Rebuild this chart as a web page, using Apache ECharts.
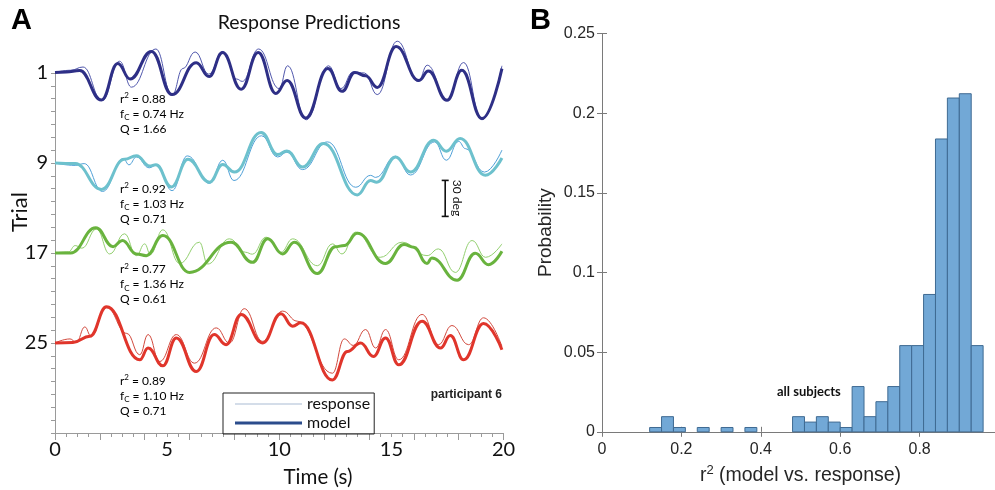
<!DOCTYPE html>
<html><head><meta charset="utf-8">
<script src="https://cdn.jsdelivr.net/npm/echarts@6/dist/echarts.min.js"></script>
<style>html,body{margin:0;padding:0;background:#fff}#c{width:995px;height:490px}</style>
</head><body><div id="c"></div>
<script>
// ---------- Panel A data: [time (s), deflection (deg)] ----------
const trial1Model = [[0,0.5],[0.5,0.8],[1.1,2],[2.07,-22.5],[2.8,7.9],[3.35,-5],[4.3,18],[5.22,-18],[6.3,8.6],[6.87,-3],[7.47,17],[8.3,-13.5],[9.06,17],[9.85,-17],[10.35,-6.2],[11.18,-37.5],[12.17,3.7],[12.8,-15.3],[13.37,0.5],[13.85,-2.3],[14.37,-12],[15.21,22],[16.23,-6.2],[16.65,1.6],[17.48,-22.8],[18.14,2.2],[19.04,-38],[19.93,3.7]];
const trial1Resp = [[0,0.5],[0.7,2.3],[1.25,5],[2.1,-23],[2.88,9.8],[3.41,-11.8],[4.5,20],[5.22,-18.5],[5.7,3.7],[6.25,17.5],[6.86,-1],[7.48,18],[8.1,-5],[8.35,-7],[9.08,20],[10.0,-13],[10.37,6],[11.2,-39],[12.2,6],[12.75,-13],[13.3,1],[13.8,0],[14.37,-18],[15.26,26.5],[16.2,-7],[16.6,6.5],[17.48,-23],[18.22,8.7],[19.04,-39],[19.93,6]];
const trial9Model = [[0,0],[0.9,-0.5],[2.07,-22],[3.1,3.1],[3.63,6],[4.22,-2.5],[4.5,-1.5],[5.19,-20],[5.93,3.1],[6.89,-16],[7.48,-1.3],[8.0,-7.6],[9.19,25.5],[9.93,7],[10.34,10],[11.04,-3.4],[11.97,16.3],[13.48,-26.6],[14.07,-14.5],[14.35,-16],[15.19,5],[15.85,-7.6],[16.89,19],[17.45,9.8],[18.07,20.5],[19.19,-10.3],[19.93,4.2]];
const trial9Resp = [[0,0],[0.9,-2],[1.3,-0.5],[2.12,-23.7],[3.05,3.6],[3.3,-1.5],[3.63,5],[4.2,-4],[4.55,-1.5],[5.22,-23],[5.9,5.9],[6.9,-17],[7.48,2.3],[7.98,-14.6],[9.21,22.7],[9.93,5],[10.34,9],[11.04,-5.5],[12.15,17.6],[13.41,-20.2],[14.07,-10.3],[14.3,-12],[15.19,5.6],[15.85,-10],[16.93,17.6],[17.45,2.3],[18.0,18],[18.3,12],[19.15,-7.6],[19.93,10.7]];
const trial17Model = [[0,0],[0.7,0],[1.82,21],[2.59,5.3],[3.0,10.4],[3.63,-0.8],[4.07,-2.2],[4.81,14.6],[6.0,-16.2],[7.85,9],[8.81,-7.8],[9.48,11.8],[10.15,-0.8],[10.67,9],[11.7,-17.1],[12.5,5.3],[12.9,6.2],[13.48,16.5],[14.74,-8.7],[15.56,7],[16.0,4.8],[16.59,-8.7],[16.8,-4.2],[17.93,-22.7],[18.74,-0.3],[19.33,-9.8],[19.93,1.4]];
const trial17Resp = [[0,0],[0.6,1],[0.9,6.2],[1.2,4],[1.85,20],[2.44,-0.8],[3.1,16],[3.63,-2.2],[4.0,7.6],[4.25,-1],[4.81,19.3],[5.56,-8.7],[6.44,9],[6.81,-9.2],[7.78,11.8],[8.5,0.6],[8.8,-1],[9.41,13.2],[10.07,0.6],[10.6,11.8],[11.7,-10.6],[12.37,7.6],[12.8,-0.8],[13.4,17.4],[14.5,-3.6],[15.48,9],[16.59,-2.2],[17.1,3.4],[17.85,-16.2],[18.6,10.4],[19.2,-3.6],[19.93,7.6]];
const trial25Model = [[0,0],[0.8,0.5],[1.56,5.6],[2.3,30.3],[3.78,-14],[4.15,-4.2],[4.81,-19],[5.41,4.2],[6.3,-23.8],[7.1,7],[7.63,-1.4],[8.3,23.8],[9.26,0],[10.07,24.4],[10.6,14],[10.96,16.8],[12.37,-30.8],[13.04,-7],[13.63,0],[14.2,-11.2],[14.74,4.2],[15.33,-18.2],[16.37,18.2],[17.19,-4.2],[17.63,6.2],[18.22,-14],[19.11,16.2],[19.93,-5.6]];
const trial25Resp = [[0,0],[0.67,3.4],[0.95,0.5],[1.33,13.4],[1.6,6],[2.3,29.4],[3.2,8],[3.78,-9.8],[4.15,7],[4.67,-15.4],[5.41,7],[6.22,-16.8],[7.19,12.6],[7.78,0],[8.44,28.6],[9.26,1.4],[10.15,26.6],[10.8,18.2],[12.37,-25.2],[12.9,3.4],[13.3,-2],[13.85,11.2],[14.3,-4.2],[14.74,11.2],[15.33,-14],[16.37,23.8],[17.1,-1.4],[17.7,14.6],[18.44,-1.4],[19.11,21],[19.93,-2.8]];

const trialLabels = ['1', '9', '17', '25'];
const r2Values = ['0.88', '0.92', '0.77', '0.89'];
const fcValues = ['0.74', '1.03', '1.36', '1.10'];
const qValues = ['1.66', '0.71', '0.61', '0.71'];
const timeTickLabels = [0, 5, 10, 15, 20];
const scaleBarDeg = 30;

// ---------- Panel B data: histogram of r^2 ----------
const binLeft = [0.12,0.15,0.18,0.24,0.30,0.36,0.48,0.51,0.54,0.57,0.60,0.63,0.66,0.69,0.72,0.75,0.78,0.81,0.84,0.87,0.90,0.93];
const binProb = [0.0027,0.0095,0.0027,0.0027,0.0027,0.0027,0.0095,0.0061,0.0095,0.0061,0.0027,0.0284,0.0095,0.0189,0.0284,0.0541,0.0541,0.0862,0.1838,0.2095,0.2122,0.0541];
const BIN_WIDTH = 0.03;
const rTickLabels = [0, 0.2, 0.4, 0.6, 0.8];

// ---------- build ----------
const TRIAL_STEP = 75;          // deg between stacked trials
const TICK_STEP = TRIAL_STEP / 7;
const Y_MAX = TRIAL_STEP * 4;
const modelSets = [trial1Model, trial9Model, trial17Model, trial25Model];
const respSets = [trial1Resp, trial9Resp, trial17Resp, trial25Resp];
const modelColors = ['#2e2f86', '#6dc1cd', '#69b33e', '#e0352b'];
const respColors = ['#5158ad', '#4fa0d8', '#93d070', '#d24a3e'];
const FONT_A = 'Lato, "Open Sans", sans-serif';
const FONT_B = '"Liberation Sans", Arial, sans-serif';

const series = [];
for (let k = 0; k < 4; k++) {
  const base = Y_MAX - TRIAL_STEP * k;
  series.push({
    type: 'line', xAxisIndex: 0, yAxisIndex: 0, symbol: 'none', smooth: 0.45, smoothMonotone: 'x', clip: false,
    silent: true, z: 2,
    data: respSets[k].map(p => [p[0], base + p[1]]),
    lineStyle: { color: respColors[k], width: 1 }
  });
  series.push({
    type: 'line', xAxisIndex: 0, yAxisIndex: 0, symbol: 'none', smooth: 0.45, smoothMonotone: 'x', clip: false,
    silent: true, z: 3,
    data: modelSets[k].map(p => [p[0], base + p[1]]),
    lineStyle: { color: modelColors[k], width: 3 }
  });
}
// legend-only series
series.push({ name: 'response', type: 'line', xAxisIndex: 0, yAxisIndex: 0, data: [], symbol: 'none',
  itemStyle: { color: '#aabbd4' }, lineStyle: { color: '#aabbd4', width: 1 } });
series.push({ name: 'model', type: 'line', xAxisIndex: 0, yAxisIndex: 0, data: [], symbol: 'none',
  itemStyle: { color: '#2b4c8c' }, lineStyle: { color: '#2b4c8c', width: 3 } });

// scale bar (30 deg) in data coordinates
const scaleBarX = 17.4;
const scaleBarBottom = Y_MAX - TRIAL_STEP - 44.5;
series.push({
  type: 'custom', xAxisIndex: 0, yAxisIndex: 0, clip: false, silent: true,
  data: [[scaleBarX, scaleBarBottom, scaleBarBottom + scaleBarDeg]],
  encode: { x: 0, y: [1, 2] },
  renderItem: function (params, api) {
    const a = api.coord([api.value(0), api.value(1)]);
    const b = api.coord([api.value(0), api.value(2)]);
    const st = { stroke: '#111', lineWidth: 1.6 };
    return { type: 'group', children: [
      { type: 'line', shape: { x1: a[0], y1: a[1], x2: b[0], y2: b[1] }, style: st },
      { type: 'line', shape: { x1: a[0] - 3.5, y1: a[1], x2: a[0] + 3.5, y2: a[1] }, style: st },
      { type: 'line', shape: { x1: b[0] - 3.5, y1: b[1], x2: b[0] + 3.5, y2: b[1] }, style: st }
    ]};
  }
});

// histogram
series.push({
  type: 'custom', xAxisIndex: 2, yAxisIndex: 1, silent: true,
  data: binLeft.map((x, i) => [x, binProb[i]]),
  encode: { x: 0, y: 1 },
  renderItem: function (params, api) {
    const x0 = api.value(0), v = api.value(1);
    const p0 = api.coord([x0, v]);
    const p1 = api.coord([x0 + BIN_WIDTH, 0]);
    return { type: 'rect', shape: { x: p0[0], y: p0[1], width: p1[0] - p0[0], height: p1[1] - p0[1] },
      style: { fill: '#72a8d6', stroke: '#3f6a92', lineWidth: 1 } };
  }
});

// text annotations
const graphic = [
  { type: 'text', x: 11, y: 6, style: { text: 'A', font: 'bold 29px ' + FONT_B, fill: '#000' } },
  { type: 'text', x: 530, y: 6, style: { text: 'B', font: 'bold 29px ' + FONT_B, fill: '#000' } },
  { type: 'text', x: 20, y: 212, rotation: Math.PI / 2,
    style: { text: 'Trial', font: '22px ' + FONT_A, fill: '#111', align: 'center', verticalAlign: 'middle', textAlign: 'center', textVerticalAlign: 'middle' } },
  { type: 'text', x: 318, y: 477,
    style: { text: 'Time (s)', font: '20.5px ' + FONT_A, fill: '#111', align: 'center', verticalAlign: 'middle', textAlign: 'center', textVerticalAlign: 'middle' } },
  { type: 'text', x: 457, y: 198, rotation: -Math.PI / 2,
    style: { text: scaleBarDeg + ' deg', font: '12px ' + FONT_A, fill: '#111', align: 'center', verticalAlign: 'middle', textAlign: 'center', textVerticalAlign: 'middle' } },
  { type: 'text', x: 502, y: 395,
    style: { text: 'participant 6', font: 'bold 12px ' + FONT_B, fill: '#222', align: 'right', verticalAlign: 'middle', textAlign: 'right', textVerticalAlign: 'middle' } },
  { type: 'text', x: 777, y: 392,
    style: { text: 'all subjects', font: 'bold 13px ' + FONT_A, fill: '#111', align: 'left', verticalAlign: 'middle', textAlign: 'left', textVerticalAlign: 'middle' } }
];
const statTop = [99, 189, 269.5, 380.7];
const richStats = {
  n: { fontSize: 12, fontFamily: FONT_A, color: '#222', lineHeight: 15 },
  sup: { fontSize: 8, fontFamily: FONT_A, color: '#222', lineHeight: 15, verticalAlign: 'top' },
  sub: { fontSize: 8, fontFamily: FONT_A, color: '#222', lineHeight: 15, verticalAlign: 'bottom', padding: [4, 0, 0, 0] }
};
for (let k = 0; k < 4; k++) {
  const lines = [
    '{n|r}{sup|2}{n| = ' + r2Values[k] + '}',
    '{n|f}{sub|C}{n| = ' + fcValues[k] + ' Hz}',
    '{n|Q = ' + qValues[k] + '}'
  ];
  lines.forEach((t, j) => {
    graphic.push({ type: 'text', x: 120, y: statTop[k] + j * 15, style: { text: t, rich: richStats, verticalAlign: 'middle', textVerticalAlign: 'middle' } });
  });
}

const option = {
  animation: false,
  backgroundColor: '#fff',
  title: { text: 'Response Predictions', left: 304, top: 8, textAlign: 'center',
    textStyle: { fontSize: 19.5, fontWeight: 'normal', fontFamily: FONT_A, color: '#111' } },
  legend: {
    data: [ { name: 'response', icon: 'path://M0,0H67V1H0Z' }, { name: 'model', icon: 'path://M0,0H67V3.2H0Z' } ],
    orient: 'vertical', left: 223, top: 393, itemWidth: 67, itemHeight: 14, itemGap: 3,
    padding: [3, 4, 3, 12], borderColor: '#222', borderWidth: 1, selectedMode: false,
    textStyle: { fontSize: 16, fontFamily: FONT_A, color: '#111' }
  },
  grid: [
    { left: 55, top: 73, width: 448.5, height: 360, containLabel: false, outerBoundsMode: 'none' },
    { left: 602, top: 33.5, width: 397, height: 398.3, containLabel: false, outerBoundsMode: 'none' }
  ],
  xAxis: [
    { gridIndex: 0, type: 'value', min: 0, max: 20, interval: 0.5, position: 'bottom',
      axisLine: { lineStyle: { color: '#9a9a9a', width: 1 } },
      axisTick: { length: 4, lineStyle: { color: '#9a9a9a' } },
      axisLabel: { margin: 7, fontSize: 20, fontFamily: FONT_A, color: '#111',
        formatter: v => { const r = Math.round(v); return (Math.abs(v - r) < 1e-6 && timeTickLabels.indexOf(r) >= 0) ? String(r) : ''; } },
      splitLine: { show: false } },
    { gridIndex: 0, type: 'value', min: 0, max: 20, interval: 2, position: 'bottom',
      axisLine: { show: false }, axisTick: { length: 7, lineStyle: { color: '#9a9a9a' } },
      axisLabel: { show: false }, splitLine: { show: false } },
    { gridIndex: 1, type: 'value', min: 0, max: 1, interval: 0.2, position: 'bottom',
      axisLine: { lineStyle: { color: '#7a7a7a' } },
      axisTick: { inside: true, length: 5, lineStyle: { color: '#7a7a7a' } },
      axisLabel: { margin: 10, fontSize: 16, fontFamily: FONT_B, color: '#262626',
        formatter: v => { const m = rTickLabels.find(t => Math.abs(t - v) < 1e-6); return m === undefined ? '' : String(m); } },
      name: '{b|r}{s|2}{b| (model vs. response)}', nameLocation: 'middle', nameGap: 32,
      nameTextStyle: { rich: { b: { fontSize: 19.5, fontFamily: FONT_B, color: '#262626', lineHeight: 24 },
        s: { fontSize: 13, fontFamily: FONT_B, color: '#262626', lineHeight: 24, verticalAlign: 'top' } } },
      splitLine: { show: false } },
    { gridIndex: 1, type: 'value', min: 0, max: 1, interval: 0.2, position: 'top',
      axisLine: { lineStyle: { color: '#7a7a7a' } },
      axisTick: { inside: true, length: 5, lineStyle: { color: '#7a7a7a' } },
      axisLabel: { show: false }, splitLine: { show: false } }
  ],
  yAxis: [
    { gridIndex: 0, type: 'value', min: 0, max: Y_MAX, interval: TICK_STEP,
      axisLine: { show: true, lineStyle: { color: '#9a9a9a' } },
      axisTick: { show: true, length: 4, lineStyle: { color: '#9a9a9a' } },
      axisLabel: { margin: 7, fontSize: 20, fontFamily: FONT_A, color: '#111',
        formatter: v => { const k = Math.round(v / TICK_STEP); if (k % 7 !== 0) return ''; const idx = 4 - k / 7; return idx >= 0 && idx < 4 ? trialLabels[idx] : ''; } },
      splitLine: { show: false } },
    { gridIndex: 1, type: 'value', min: 0, max: 0.25, interval: 0.05, position: 'left',
      axisLine: { show: true, lineStyle: { color: '#7a7a7a' } },
      axisTick: { show: true, inside: true, length: 5, lineStyle: { color: '#7a7a7a' } },
      axisLabel: { margin: 7, fontSize: 16, fontFamily: FONT_B, color: '#262626', formatter: v => String(+v.toFixed(2)) },
      name: 'Probability', nameLocation: 'middle', nameGap: 47,
      nameTextStyle: { fontSize: 19, fontFamily: FONT_B, color: '#262626' },
      splitLine: { show: false } },
    { gridIndex: 1, type: 'value', min: 0, max: 0.25, interval: 0.05, position: 'right',
      axisLine: { show: true, lineStyle: { color: '#7a7a7a' } },
      axisTick: { show: true, inside: true, length: 5, lineStyle: { color: '#7a7a7a' } },
      axisLabel: { show: false }, splitLine: { show: false } }
  ],
  graphic: graphic,
  series: series
};
const chart = echarts.init(document.getElementById('c'), null, { renderer: 'canvas' });
chart.setOption(option);
</script></body></html>
